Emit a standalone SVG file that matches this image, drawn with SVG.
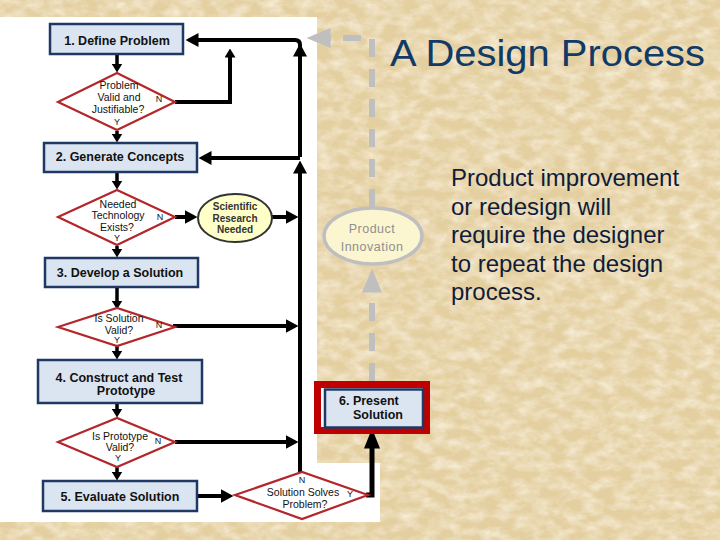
<svg xmlns="http://www.w3.org/2000/svg" width="720" height="540" viewBox="0 0 720 540">
<defs>
<filter id="tex" x="0" y="0" width="100%" height="100%">
<feTurbulence type="fractalNoise" baseFrequency="0.06 0.1" numOctaves="4" seed="7" result="n"/>
<feColorMatrix in="n" type="matrix" values="0 0 0 0 1  0 0 0 0 0.96  0 0 0 0 0.87  1.3 0 0 0 -0.45"/>
</filter>
<filter id="tex2" x="0" y="0" width="100%" height="100%">
<feTurbulence type="fractalNoise" baseFrequency="0.15 0.2" numOctaves="3" seed="3" result="n"/>
<feColorMatrix in="n" type="matrix" values="0 0 0 0 0.75  0 0 0 0 0.62  0 0 0 0 0.42  0 1.2 0 0 -0.5"/>
</filter>
<marker id="ah" viewBox="0 -7 13 14" refX="0.5" refY="0" markerWidth="13" markerHeight="14" markerUnits="userSpaceOnUse" orient="auto"><path d="M0,-7 L13,0 L0,7 Z" fill="#000"/></marker>
<marker id="ahs" viewBox="0 -5.5 9 11" refX="0.5" refY="0" markerWidth="9" markerHeight="11" markerUnits="userSpaceOnUse" orient="auto"><path d="M0,-5.5 L9,0 L0,5.5 Z" fill="#000"/></marker>
<marker id="ahb" viewBox="0 -8 20 16" refX="0.5" refY="0" markerWidth="20" markerHeight="16" markerUnits="userSpaceOnUse" orient="auto"><path d="M0,-8 L20,0 L0,8 Z" fill="#000"/></marker>
<marker id="ahg" viewBox="0 -10 24 20" refX="0.5" refY="0" markerWidth="24" markerHeight="20" markerUnits="userSpaceOnUse" orient="auto"><path d="M0,-10 L24,0 L0,10 Z" fill="#bfbfbf"/></marker>
</defs>
<style>
.box{fill:#dbe5f1;stroke:#1f3864;stroke-width:2.5}
.dia{fill:#fff;stroke:#b3262b;stroke-width:2.2}
.bt{font-family:"Liberation Sans",Arial,sans-serif;font-weight:bold;font-size:12.5px;fill:#111;text-anchor:middle}
.dt{font-family:"Liberation Sans",Arial,sans-serif;font-size:10.5px;fill:#111;text-anchor:middle}
.yn{font-family:"Liberation Sans",Arial,sans-serif;font-size:9px;fill:#111;text-anchor:middle}
.st{font-family:"Liberation Sans",Arial,sans-serif;font-weight:bold;font-size:10px;fill:#333;text-anchor:middle}
.ln{fill:none;stroke:#000;stroke-width:4}
.lns{fill:none;stroke:#000;stroke-width:3.5}
.gl{fill:none;stroke:#bfbfbf;stroke-width:6;stroke-dasharray:18 12}
.body{font-family:"Liberation Sans",Arial,sans-serif;font-size:24px;fill:#101c38}
</style>
<rect width="720" height="540" fill="#e4cf9f"/>
<rect width="720" height="540" filter="url(#tex)"/>
<rect width="720" height="540" filter="url(#tex2)" opacity="0.6"/>
<path d="M0,17 H317 V463 H380 V522 H0 Z" fill="#fff"/>

<text x="390" y="66" font-family="'Liberation Sans',Arial,sans-serif" font-size="37" fill="#123a66" textLength="315" lengthAdjust="spacingAndGlyphs">A Design Process</text>
<g id="note">
<text class="body" x="451" y="186">Product improvement</text>
<text class="body" x="451" y="215">or redesign will</text>
<text class="body" x="451" y="243">require the designer</text>
<text class="body" x="451" y="272">to repeat the design</text>
<text class="body" x="451" y="300">process.</text>
</g>

<g id="connectors">
<path class="lns" d="M117,55 V64" marker-end="url(#ahs)"/>
<path class="lns" d="M117,131 V134" marker-end="url(#ahs)"/>
<path class="lns" d="M117,173 V181" marker-end="url(#ahs)"/>
<path class="lns" d="M117,246 V249" marker-end="url(#ahs)"/>
<path class="lns" d="M117,288 V301" marker-end="url(#ahs)"/>
<path class="lns" d="M117,346 V351" marker-end="url(#ahs)"/>
<path class="lns" d="M117,404 V409" marker-end="url(#ahs)"/>
<path class="lns" d="M117,467 V472" marker-end="url(#ahs)"/>
<path class="ln" d="M175,102 H230 V57" marker-end="url(#ahs)"/>
<path class="ln" d="M300,472 V173" marker-end="url(#ah)"/>
<path class="ln" d="M300,157 V56" marker-end="url(#ah)"/>
<path class="ln" d="M300,56 V45 Q300,40 295,40 H198" marker-end="url(#ah)"/>
<path class="ln" d="M300,158 H211" marker-end="url(#ah)"/>
<path class="ln" d="M175,217 H185" marker-end="url(#ah)"/>
<path class="ln" d="M272,217 H286" marker-end="url(#ah)"/>
<path class="ln" d="M173,326 H286" marker-end="url(#ah)"/>
<path class="ln" d="M175,442 H286" marker-end="url(#ah)"/>
<path class="ln" d="M197,496 H221" marker-end="url(#ah)"/>
<path d="M366,495 H372 V448" fill="none" stroke="#000" stroke-width="5" marker-end="url(#ahb)"/>
<path class="gl" d="M372,381 V292" marker-end="url(#ahg)"/>
<path class="gl" d="M372,207 V38 H330" marker-end="url(#ahg)"/>
</g>

<g id="n1"><rect class="box" x="50" y="24" width="133" height="30"/><text class="bt" x="117" y="45">1. Define Problem</text></g>
<g id="d1"><path class="dia" d="M58,102 L117,73 L175,102 L117,130 Z"/>
<text class="dt" x="119" y="89">Problem</text><text class="dt" x="119" y="101">Valid and</text><text class="dt" x="118" y="113">Justifiable?</text><text class="yn" x="117" y="125">Y</text><text class="yn" x="159" y="102">N</text></g>
<g id="n2"><rect class="box" x="44" y="143" width="153" height="29"/><text class="bt" x="120" y="161">2. Generate Concepts</text></g>
<g id="d2"><path class="dia" d="M58,217 L117,190 L175,217 L117,245 Z"/>
<text class="dt" x="118" y="208">Needed</text><text class="dt" x="118" y="219">Technology</text><text class="dt" x="117" y="231">Exists?</text><text class="yn" x="117" y="241">Y</text><text class="yn" x="160" y="220">N</text></g>
<g id="sr"><ellipse cx="235" cy="218" rx="37" ry="24" fill="#ffffc8" stroke="#333" stroke-width="2"/>
<text class="st" x="235" y="210">Scientific</text><text class="st" x="235" y="221.5">Research</text><text class="st" x="235" y="233">Needed</text></g>
<g id="n3"><rect class="box" x="45" y="258" width="153" height="29"/><text class="bt" x="120" y="277">3. Develop a Solution</text></g>
<g id="d3"><path class="dia" d="M58,327 L117,308 L175,327 L117,346 Z"/>
<text class="dt" x="119" y="322">Is Solution</text><text class="dt" x="119" y="334">Valid?</text><text class="yn" x="117" y="343">Y</text><text class="yn" x="159" y="328">N</text></g>
<g id="n4"><rect class="box" x="38" y="360" width="164" height="43"/><text class="bt" x="119" y="382">4. Construct and Test</text><text class="bt" x="126" y="395">Prototype</text></g>
<g id="d4"><path class="dia" d="M58,442 L117,418 L175,442 L117,467 Z"/>
<text class="dt" x="120" y="440">Is Prototype</text><text class="dt" x="120" y="451">Valid?</text><text class="yn" x="118" y="461">Y</text><text class="yn" x="158" y="444">N</text></g>
<g id="n5"><rect class="box" x="43" y="481" width="154" height="30"/><text class="bt" x="120" y="501">5. Evaluate Solution</text></g>
<g id="d5"><path class="dia" d="M235,495 L302,472 L368,495 L302,519 Z"/>
<text class="yn" x="302" y="483">N</text><text class="dt" x="303" y="496">Solution Solves</text><text class="dt" x="305" y="508">Problem?</text><text class="yn" x="350" y="497">Y</text></g>
<g id="n6"><rect x="317.5" y="384.5" width="109" height="46" fill="#fff" stroke="#c00000" stroke-width="7"/>
<rect class="box" x="325" y="389.5" width="98" height="38"/>
<text class="bt" x="339" y="405" style="text-anchor:start">6. Present</text><text class="bt" x="353" y="419" style="text-anchor:start">Solution</text></g>
<g id="pi"><ellipse cx="373" cy="236" rx="49" ry="28" fill="#fbf6cf" stroke="#bfbfbf" stroke-width="3.5"/>
<text x="372" y="233" font-family="'Liberation Sans',Arial,sans-serif" font-size="12.5" letter-spacing="0.5" fill="#8f8f8f" text-anchor="middle">Product</text>
<text x="372" y="251" font-family="'Liberation Sans',Arial,sans-serif" font-size="12.5" letter-spacing="0.5" fill="#8f8f8f" text-anchor="middle">Innovation</text></g>
</svg>
